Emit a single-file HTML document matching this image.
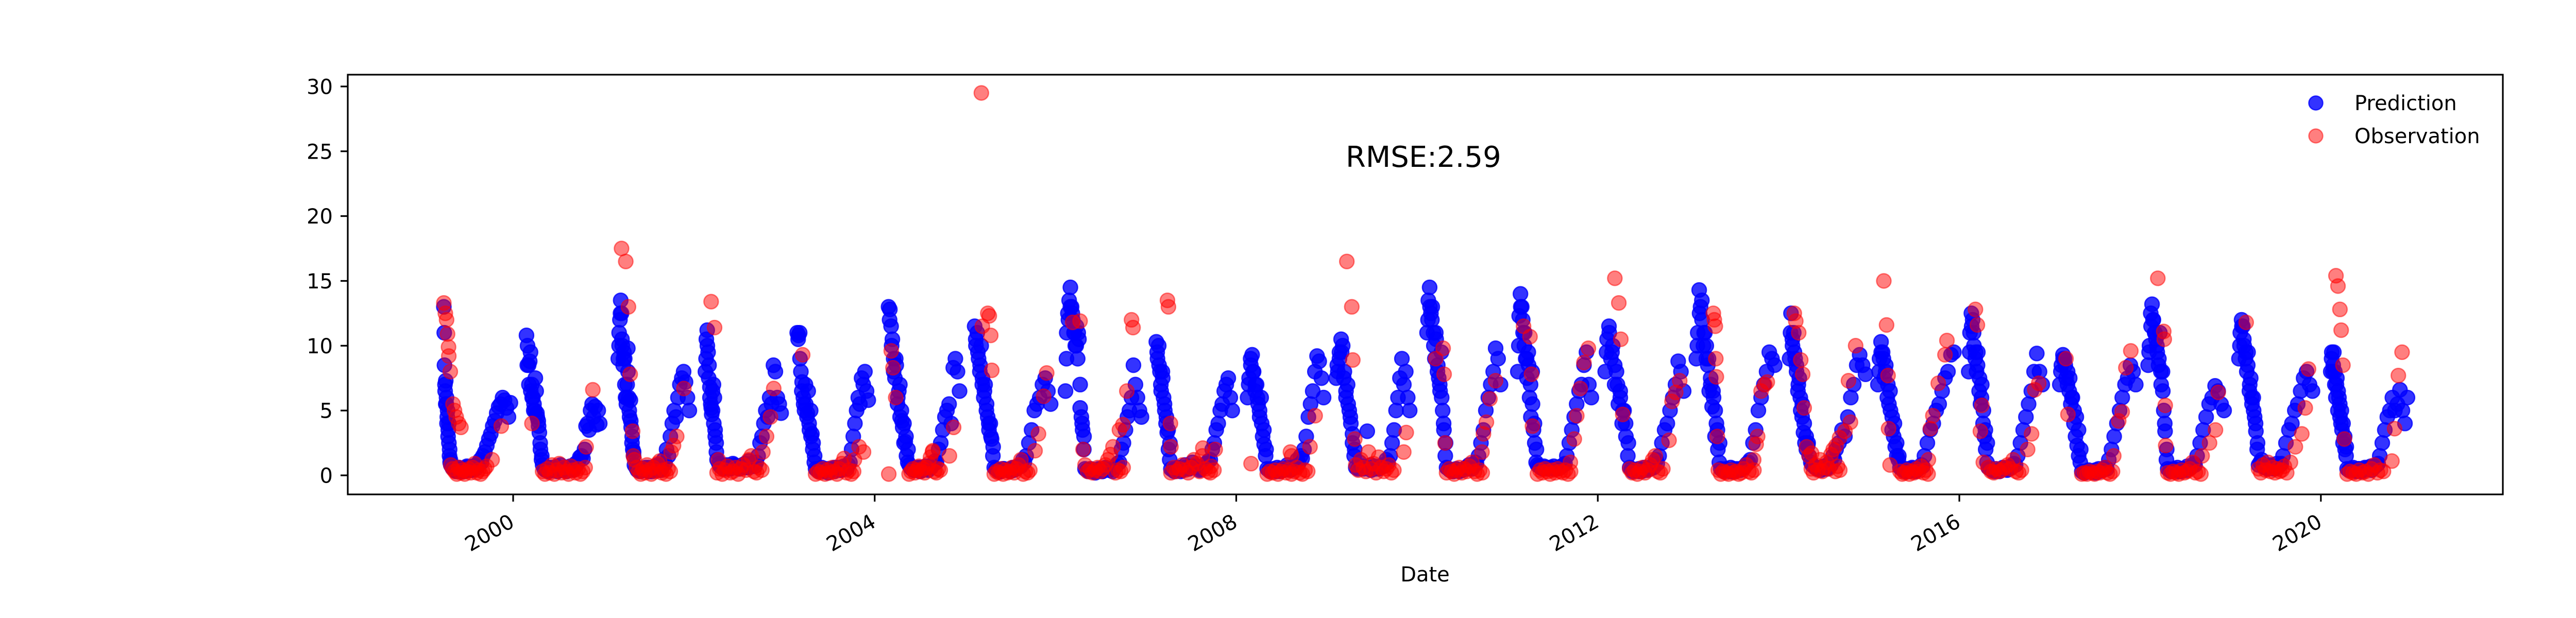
<!DOCTYPE html>
<html><head><meta charset="utf-8"><style>
html,body{margin:0;padding:0;background:#fff;width:5400px;height:1200px;overflow:hidden}
svg{display:block;font-family:"DejaVu Sans","Liberation Sans",sans-serif}
</style></head><body>
<svg id="chart" width="5400" height="1200" viewBox="0 0 5400 1200" xmlns="http://www.w3.org/2000/svg">
<defs><clipPath id="clip"><rect x="675" y="145" width="4183" height="815"/></clipPath></defs>
<rect x="675" y="145" width="4183" height="815" fill="#fff"/>
<g id="marks" clip-path="url(#clip)"></g>
<rect x="675" y="145" width="4183" height="815" fill="none" stroke="#000" stroke-width="3.2"/>
<g id="yaxis"></g>
<g id="xaxis"></g>
<text x="2766" y="1129" font-size="40" text-anchor="middle">Date</text>
<text x="2612" y="324" font-size="56">RMSE:2.59</text>
<g>
 <circle cx="4495" cy="200" r="13.5" fill="rgba(0,0,255,0.8)" stroke="rgba(0,0,255,0.8)" stroke-width="2.5"/>
 <text x="4570" y="214" font-size="40">Prediction</text>
 <circle cx="4495" cy="264" r="13.5" fill="rgba(255,0,0,0.5)" stroke="rgba(255,0,0,0.5)" stroke-width="2.5"/>
 <text x="4570" y="278" font-size="40">Observation</text>
</g>
</svg>
<script>
const seasonYears=[1999,2000,2001,2002,2003,2004,2005,2006,2007,2008,2009,2010,2011,2012,2013,2014,2015,2016,2017,2018,2019,2020];
const highStart=[85,54,59,46,52,56,38,40,42,46,38,40,42,30,32,44,36,38,40,32,34,40];
const lowStart=[113,119,124,93,126,139,117,119,101,125,117,119,121,129,131,123,125,117,129,111,113,106];
const riseStart=[243,276,254,259,265,250,246,258,260,274,256,248,240,248,250,232,224,236,238,230,212,238];
const seasonEnd=[354,350,346,352,339,343,345,347,349,353,335,337,339,347,349,351,343,335,347,339,331,350];
const highVals=[
[13,8.5,6.5,7.3,5.5,4,5,3.5,2.5,1.5,1],
[10.8,10,8.5,8.8,6.5,7,6,5.5,5,6.5,4.5,4.2,3.3,2,1.2],
[9,11,12,13.5,12.5,10,8.5,9.5,9,6,5.5,7,8,6,4.5,5.8,3.7,2.5,2,1.5],
[8,10.5,11.2,9.5,8.5,6.8,5.5,4.7,5,7,6,3,2.5],
[11,10.8,11,8,7.2,6,5,5.5,4.5,6.5,3.5,5,3.2,2.5,1],
[13,12.8,11.5,10.5,9,7.5,8.5,5.5,6.5,4.5,5,3.7,2.5,2.6,1.5,1],
[11.5,10,11,9,8,10,7.5,6,7,5,4.5,3.5,4,2.8,1.5],
[6.5,11,12.5,13.5,14.5,13,12,11,10,11.5,9,10.5,5.2,4.5,3.5,2],
[10.3,9,10,8,6.5,8,6,5,4,3.3,2,1.2],
[6,7.5,9,9.3,8,6.5,7,5.5,4.5,6,3,2.4,1.5],
[7.5,8,9.5,10.5,10,8,6.5,7,5,4,3.2,1.5],
[11,13.5,14.5,12.5,13,11,9,10.5,8,7.5,6.5,9.5,5,3.5,1.5],
[8,12.3,14,13,11,10,9,7.5,9.5,6,4.5,8,3.5,2.5,1],
[8,10.5,11.5,9,10,7,8,5.5,6,4,5,3,1.5],
[9,11,14.3,13,12,10,11,9,8.5,6.5,7.5,5.3,6,3,4,2,1],
[9,12.5,10.5,11,9,8,6.5,7.5,5,4.5,3.3,2.5,2,2.3],
[7,9,10.3,9.5,7.5,8.5,6,5.5,5,3.5,3,2.2,1.5,1.2],
[8,11,12.5,12,10,9,8,9.5,6.5,5.5,7,4,3,2,1],
[7,8.5,9.3,9,7.5,8,6.5,5.5,6,4,3,2.3,1.5,1],
[8.5,10,12.5,13.2,12,11,10.5,9.5,8.5,11,7,8,5,3.4,1.2],
[9,11,12,11.5,10,9,8,9.5,6.5,7.5,5.5,6,4.5,3.4,2],
[8,9.5,8,9.5,7,6,7.5,5,6,4.5,4,3.5,2.5,2.8,2,1.5]];
const highVals2=[
[11,7,5.5,6,4.5,3,4,2,1.2],
[8.5,7,9.5,6,5,7.5,4.8,3.8,2.5,1.5],
[10,12.5,10.5,9,7,6,9.8,5,4.2,3,1.8],
[9,10,7.5,6,5.2,6.5,4,3.5,1.8],
[10.5,9,6.5,5.5,7,4.8,4,3,2,1.5],
[12,10,8,9,6,7,4.2,4,3,2],
[10.5,9.5,8.5,7,6.5,5.5,4,3,2.2],
[9,12,13,12.5,11,10,11,7,4,3],
[9.5,8.5,7,7.5,5.5,4.5,3.5,2.5],
[7,8.5,8,7,6,5,4,3.5,2],
[8.5,9,9.5,7.5,6,5.5,4.5,2.5,2],
[12,13,12,10,11,8.5,7,6,4,2.5],
[10,13,12,11,9,8.5,7,5.5,4,2],
[9.5,11,9.5,8.5,7,6.5,5,4,2.5],
[10,12.5,13.5,11,10,9,7,6.5,5,3.5,2.5],
[11,10,9.5,8.5,7,6,5.5,4,3,2.5],
[8,9.5,9,8,7,6.5,4.5,4,2.5,1.5],
[9.5,11.5,11,9.5,8.5,7.5,6,5,3.5,2.5],
[8,9,8.5,7,7.5,6,5,4.5,3.5,2],
[9.5,11.5,12,11,10,9,8,6.5,4,2],
[10,11.5,10.5,9.5,8.5,7,6,5,4,2.5],
[9,8.5,8,7,6.5,5.5,5,4,3,2.2]];
const lowVals=[
[0.8,0.5,0.3,0.6,0.4,0.3,0.7,0.5,0.4,0.6,0.9,1.2],
[0.8,0.4,0.3,0.6,0.5,0.3,0.8,0.4,0.3,0.6,0.5,0.9,1.1],
[0.8,0.4,0.3,0.5,0.4,0.6,0.3,0.5,0.8,0.4,1.2],
[1.2,0.7,0.5,0.8,0.6,0.9,0.7,0.5,0.8,0.6,1.1,0.9,0.7],
[0.5,0.3,0.6,0.4,0.2,0.5,0.3,0.6,0.4,0.7,0.5],
[0.8,0.5,0.4,0.6,0.3,0.5,0.7,0.4,0.6,0.9],
[0.6,0.4,0.3,0.5,0.4,0.3,0.6,0.5,0.8,1.2],
[0.5,0.3,0.4,0.2,0.5,0.3,0.6,0.4,0.3,0.7],
[0.5,0.3,0.6,0.4,0.8,0.5,1,0.7,0.4,0.6,0.9],
[0.5,0.3,0.4,0.6,0.3,0.5,0.8,0.4,0.6,1.2,1.5],
[0.6,1,0.5,3.4,0.4,0.7,0.5,0.8,1.2],
[0.6,0.4,0.3,0.5,0.3,0.4,0.6,0.8,0.5,1],
[0.8,0.6,0.7,0.5,0.6,0.7,0.5,0.6,0.8],
[0.6,0.3,0.4,0.5,0.3,0.6,0.4,0.5,0.8,1.2],
[0.5,0.3,0.4,0.6,0.3,0.5,0.4,0.6,0.9],
[1.5,0.8,0.6,0.5,0.4,0.7,0.5,1,1.5],
[0.6,0.4,0.5,0.3,0.6,0.4,0.5,0.8],
[0.6,0.4,0.5,0.3,0.6,0.5,0.7,0.9],
[0.3,0.2,0.4,0.3,0.2,0.5,0.4,0.6],
[0.5,0.3,0.4,0.6,0.3,0.5,0.7,0.6,0.9],
[0.8,1.2,0.6,0.5,0.7,0.6,0.9,0.8],
[0.5,0.4,0.6,0.3,0.5,0.4,0.6,0.5,0.7,0.6,0.8]];
const lowVals2=[
[0.6,0.4,0.5,0.3,0.5,0.6,0.4,0.7,0.5,0.8,1],
[0.5,0.6,0.4,0.5,0.7,0.4,0.6,0.5,0.7,0.4,0.8,1.4],
[0.6,0.5,0.4,0.6,0.3,0.5,0.7,0.4,0.6,0.9],
[0.9,0.6,0.7,0.5,0.8,0.6,0.7,0.9,0.6,0.8,1],
[0.4,0.5,0.3,0.5,0.4,0.6,0.5,0.4,0.6,0.8],
[0.6,0.4,0.5,0.6,0.4,0.5,0.6,0.8,1.1],
[0.5,0.3,0.5,0.4,0.5,0.4,0.6,0.7,1],
[0.4,0.5,0.3,0.4,0.3,0.5,0.4,0.6,0.9],
[0.4,0.5,0.3,0.6,0.5,0.7,0.6,0.5,0.8,1.1],
[0.4,0.5,0.3,0.5,0.4,0.6,0.5,0.7,0.9,1.3],
[0.5,0.7,0.6,0.8,0.5,0.6,0.7,1],
[0.5,0.3,0.4,0.4,0.5,0.5,0.7,0.9],
[0.7,0.5,0.6,0.6,0.5,0.6,0.7,0.9],
[0.5,0.4,0.3,0.4,0.5,0.5,0.6,0.9],
[0.4,0.5,0.3,0.5,0.4,0.5,0.7,1],
[1,0.7,0.5,0.6,0.5,0.6,0.8,1.2],
[0.5,0.3,0.4,0.5,0.3,0.6,0.7],
[0.5,0.3,0.4,0.5,0.4,0.6,0.8],
[0.2,0.3,0.3,0.4,0.3,0.4,0.5],
[0.4,0.5,0.3,0.5,0.4,0.6,0.8],
[1,0.7,0.6,0.8,0.5,0.7,0.9],
[0.4,0.5,0.4,0.5,0.3,0.5,0.6,0.4,0.7,0.9]];
const riseVals=[
[1.5,1.8,2.3,2.8,3.2,3.8,4.2,4.8,5.3,5.5,6,5.8,5.2,4.5,5.6],
[1.5,1.3,2,3.8,4,3.5,5,5.5,4.5,5.3,3.9,5,4],
[2,1.5,3,4,5,4.5,6,7,7.5,8,7.2,6,5],
[1.5,2.5,3,4,5,4.5,6,5.5,8.5,8,6,5.5,4.8],
[1,2,3,4,5,6,5.5,7.5,7,8,6.5,5.8],
[1,2,2.5,3.5,4.5,5,5.5,4,8.3,9,8,6.5],
[1.5,2.5,3.5,5,5.5,6,7,7.5,6.5,5.5],
[1,2,2.5,3.5,4.5,5,6,8.5,7,6,5,4.5],
[1.2,2,2.5,3.5,4,5,5.5,6.5,7,7.5,6,5],
[2,3,4.5,5.5,6.5,8,9.2,8.8,7.5,6],
[1.5,2.5,3.5,5,6,7.5,9,7,8,6,5],
[1.5,2.5,3.5,5,6,7,8,9.8,9,7],
[1.5,2.5,3.5,4.5,5.5,6.5,7,8.5,9.5,7,6],
[1.5,2.5,3.5,4,5,6,7,8.8,8,6.5],
[1.2,2.5,3.5,5,6,7,8,9.5,9,8.5],
[2,2.5,3.5,3,4.5,6,7,8.5,9.3,8.5,7.8],
[1.5,2.5,3.5,4,5,5.5,6.5,7.5,8,9.3,9.5],
[1.5,2.5,3.5,4.5,5.5,6.5,8,9.4,8,7],
[1.2,2,3,4,5,6,7,7.5,8.5,8,7],
[1.5,2.5,3.5,4.5,5.5,6,6.9,6.5,5.5,5],
[1.5,2.5,3.5,4,5,5.5,6.5,7.5,8,7,6.5],
[1.5,2.5,3.5,4.5,5,6,5,5.5,6.6,5,4,6]];
const obsPeakDoy=[
[85,91,96,100,104,105,111,122,128,135,145,154,280,317],
[76,295,322],
[72,89,100,107,117,120,272,282,295,324],
[69,83,98,278,293,309,322],
[74,283,302,320],
[57,67,74,85,235,302,319],
[65,69,91,97,103,107,282,296,317,329],
[69,99,111,258,272,288,307,313],
[87,91,99,101,230,260,280],
[60,219,224,298,319],
[81,101,105,113,311,321],
[75,105,109,113,262,268,280,294,317],
[65,91,97,101,254,270,280,294,309,327],
[69,85,93,101,288,300,315,331],
[101,105,109,111,113,117,121,264,274,280,294,309,319],
[63,69,81,89,97,103,113,133,232,246,268,282,290,311],
[60,71,77,79,85,240,248,258,280,307,315],
[65,73,85,91,97,276,292,305,321],
[65,73,258,278,292,307,327],
[71,95,97,101,103,250,280,304,315],
[63,242,262,288,302,315],
[61,69,77,82,89,95,287,298,313,328]];
const obsPeakVals=[
[13.3,12.5,12,10.9,9.9,9.2,8,5.5,5,4.5,4,3.7,1.2,3.8],
[4,2.2,6.6],
[17.5,16.5,13,7.8,3.4,1.5,1.8,2.3,3,6.7],
[13.4,11.4,1.2,1.8,3,4.5,6.7],
[9.3,1.2,2.2,1.8],
[0.1,9.6,8.3,6,1.9,1.5,3.7],
[29.5,11.5,12.5,12.3,10.8,8.1,1.9,3.2,6.1,7.9],
[11.8,11.9,2,3.5,3.9,6.5,12,11.4],
[13.5,13,4,2.2,2.1,0.2,2],
[0.9,1.8,1.5,2.2,4.6],
[16.5,13,8.9,2.8,1.8,3.3],
[9,9.8,7.8,2.5,1.8,3.2,4.1,5.9,7.3],
[11.5,10.7,7.8,3.8,1,2.8,4.6,6.7,8.7,9.8],
[15.2,13.3,10.5,4.7,2.7,5.7,6.4,7.3],
[12.5,12,11.5,9,7.6,3,0.4,1.2,2.4,3,6.5,7,7.2],
[12.5,11.9,11,8.9,7.8,5.2,2.2,1.7,2.3,2.9,3.4,7.3,4.1,10],
[15,11.6,7.7,3.6,0.8,1.2,3.6,4.6,7.1,9.3,10.4],
[12.8,11.6,3.4,5.4,1,2,3.2,6.6,7.1],
[9,4.7,1.5,4.2,4.9,8.3,9.6],
[15.2,11.1,10.5,5.4,2.3,1.5,2.5,3.5,6.4],
[11.8,1,2.2,3.2,5.2,8.2],
[15.4,14.6,12.8,11.2,8.5,2.8,1.1,3.6,7.7,9.5]];
const obsLowVals=[
[0.8,0.5,0.3,0.1,0.6,0.2,0.4,0.1,0.3,0.5,0.2,0.6,0.9,0.2,0.4,0.1,0.3,0.5,0.7],
[0.3,0.1,0.5,0.2,0.8,0.1,0.4,0.9,0.2,0.6,0.3,0.1,0.7,0.4,0.2,0.5,0.1,0.3,0.6],
[1.2,0.6,0.3,0.1,0.5,0.2,0.8,0.4,0.1,0.6,0.3,0.9,1.1,0.2,0.4,0.1,0.5,0.3],
[0.2,0.5,0.1,0.4,0.7,0.2,0.3,0.6,0.1,0.5,0.8,0.4,1.2,1.5,0.3,0.2,0.6,0.4],
[0.1,0.3,0.2,0.5,0.1,0.4,0.2,0.6,0.3,0.1,0.5,0.9,1.3,0.2,0.4,0.1,0.3],
[0.1,0.3,0.5,0.2,0.4,0.7,0.3,0.5,0.2,0.6,0.9,1.4,1.8,0.3,0.2,0.5,0.4],
[0.1,0.3,0.2,0.5,0.1,0.4,0.2,0.3,0.6,0.2,0.5,0.8,1.2,0.1,0.3,0.2,0.4],
[0.8,0.3,0.5,0.2,0.4,0.6,0.3,0.5,0.8,1.2,1.6,2.2,0.2,0.4,0.3,0.6],
[0.2,0.6,0.3,0.5,0.8,0.4,0.2,0.6,1.2,0.9,0.3,1.5,0.5,0.3,0.7,0.4],
[0.1,0.3,0.2,0.4,0.1,0.3,0.5,0.2,0.4,0.1,0.3,0.6,0.2,0.1,0.4,0.3],
[0.8,0.4,1.2,0.6,0.3,1.8,0.5,0.9,0.2,1.4,0.6,0.3,0.5,0.8,0.2,0.4],
[0.2,0.5,0.3,0.1,0.4,0.6,0.2,0.5,0.3,0.7,1,0.3,0.1,0.4,0.2],
[0.1,0.4,0.2,0.5,0.3,0.1,0.4,0.2,0.5,0.3,0.2,0.4,0.1,0.3],
[0.5,0.2,0.4,0.1,0.3,0.6,0.2,0.4,0.8,1.2,1.5,0.3,0.2,0.5],
[0.1,0.3,0.2,0.1,0.4,0.2,0.3,0.1,0.2,0.5,0.8,0.3,0.2,0.4],
[1.5,0.5,0.2,0.8,0.4,1.2,0.3,0.6,1,0.5,1.6,2,0.3,0.7,0.4],
[0.3,0.1,0.2,0.4,0.1,0.3,0.2,0.5,0.3,0.7,0.2,0.4,0.1],
[0.6,0.3,0.2,0.5,0.3,0.4,0.6,0.8,0.5,1.2,0.3,0.2,0.4],
[0.1,0.2,0.1,0.3,0.2,0.1,0.3,0.2,0.4,0.6,0.2,0.1,0.3],
[0.2,0.1,0.3,0.2,0.1,0.4,0.2,0.3,0.5,1,0.2,0.3,0.1],
[0.5,0.2,0.8,0.4,1,0.3,0.6,0.2,0.5,0.3,0.4,0.7,0.2],
[0.1,0.3,0.2,0.1,0.4,0.2,0.3,0.1,0.5,0.8,0.2,0.4,0.3]];
const yTicks=[0,5,10,15,20,25,30];
const xTickYears=[2000,2004,2008,2012,2016,2020];

const NS='http://www.w3.org/2000/svg';
const X0=996, PXDAY=0.48033, Y0=923, PXUNIT=25.17, R=14;
function dayIndex(year,doy){return (Date.UTC(year,0,1)-Date.UTC(2000,0,1))/864e5+doy;}
function xScale(year,doy){return X0+dayIndex(year,doy)*PXDAY;}
function yScale(v){return Y0-v*PXUNIT;}
const marks=document.getElementById('marks');
function dot(cx,cy,fill,name){
  const c=document.createElementNS(NS,'circle');
  c.setAttribute('cx',cx.toFixed(1));c.setAttribute('cy',cy.toFixed(1));c.setAttribute('r',R);
  c.setAttribute('fill',fill);c.setAttribute('stroke',fill);c.setAttribute('stroke-width','2.5');
  
  
  marks.appendChild(c);
}
const BLUE='rgba(0,0,255,0.8)', RED='rgba(255,0,0,0.5)';
function spread(yr,a,b,vals,col,name,offset){
  const n=vals.length, st=(b-a)/n;
  vals.forEach((v,k)=>dot(xScale(yr,a+(k+offset)*st),yScale(v),col,name));
}
seasonYears.forEach((yr,i)=>{
  const hs=highStart[i], ls=lowStart[i], rs=riseStart[i], en=seasonEnd[i];
  spread(yr,hs,ls,highVals[i],BLUE,'prediction-point',0);
  spread(yr,hs,ls,highVals2[i],BLUE,'prediction-point',0.5);
  spread(yr,ls,rs,lowVals[i],BLUE,'prediction-point',0);
  spread(yr,ls,rs,lowVals2[i],BLUE,'prediction-point',0.5);
  const r=riseVals[i];
  r.forEach((v,k)=>dot(xScale(yr,rs+k*(en-rs)/(r.length-1)),yScale(v),BLUE,'prediction-point'));
});
seasonYears.forEach((yr,i)=>{
  const ls=lowStart[i], rs=riseStart[i]+15, o=obsLowVals[i];
  o.forEach((v,k)=>dot(xScale(yr,ls+k*(rs-ls)/(o.length-1)),yScale(v),RED,'observation-point'));
  obsPeakDoy[i].forEach((d,k)=>dot(xScale(yr,d),yScale(obsPeakVals[i][k]),RED,'observation-point'));
});
const ya=document.getElementById('yaxis');
yTicks.forEach(t=>{
  const y=yScale(t);
  const ln=document.createElementNS(NS,'line');
  ln.setAttribute('x1',661);ln.setAttribute('x2',675);ln.setAttribute('y1',y);ln.setAttribute('y2',y);
  ln.setAttribute('stroke','#000');ln.setAttribute('stroke-width','3.2');
  
  
  ya.appendChild(ln);
  const tx=document.createElementNS(NS,'text');
  tx.setAttribute('x',646);tx.setAttribute('y',y+14.5);tx.setAttribute('text-anchor','end');tx.setAttribute('font-size','40');
  tx.textContent=String(t);
  
  
  ya.appendChild(tx);
});
const xa=document.getElementById('xaxis');
xTickYears.forEach(yr=>{
  const x=xScale(yr,0);
  const ln=document.createElementNS(NS,'line');
  ln.setAttribute('x1',x);ln.setAttribute('x2',x);ln.setAttribute('y1',960);ln.setAttribute('y2',974);
  ln.setAttribute('stroke','#000');ln.setAttribute('stroke-width','3.2');
  
  
  xa.appendChild(ln);
  const tx=document.createElementNS(NS,'text');
  tx.setAttribute('transform','translate('+(x+5)+',1021) rotate(-30)');
  tx.setAttribute('text-anchor','end');tx.setAttribute('font-size','40');
  tx.textContent=String(yr);
  
  
  xa.appendChild(tx);
});
</script>
</body></html>
